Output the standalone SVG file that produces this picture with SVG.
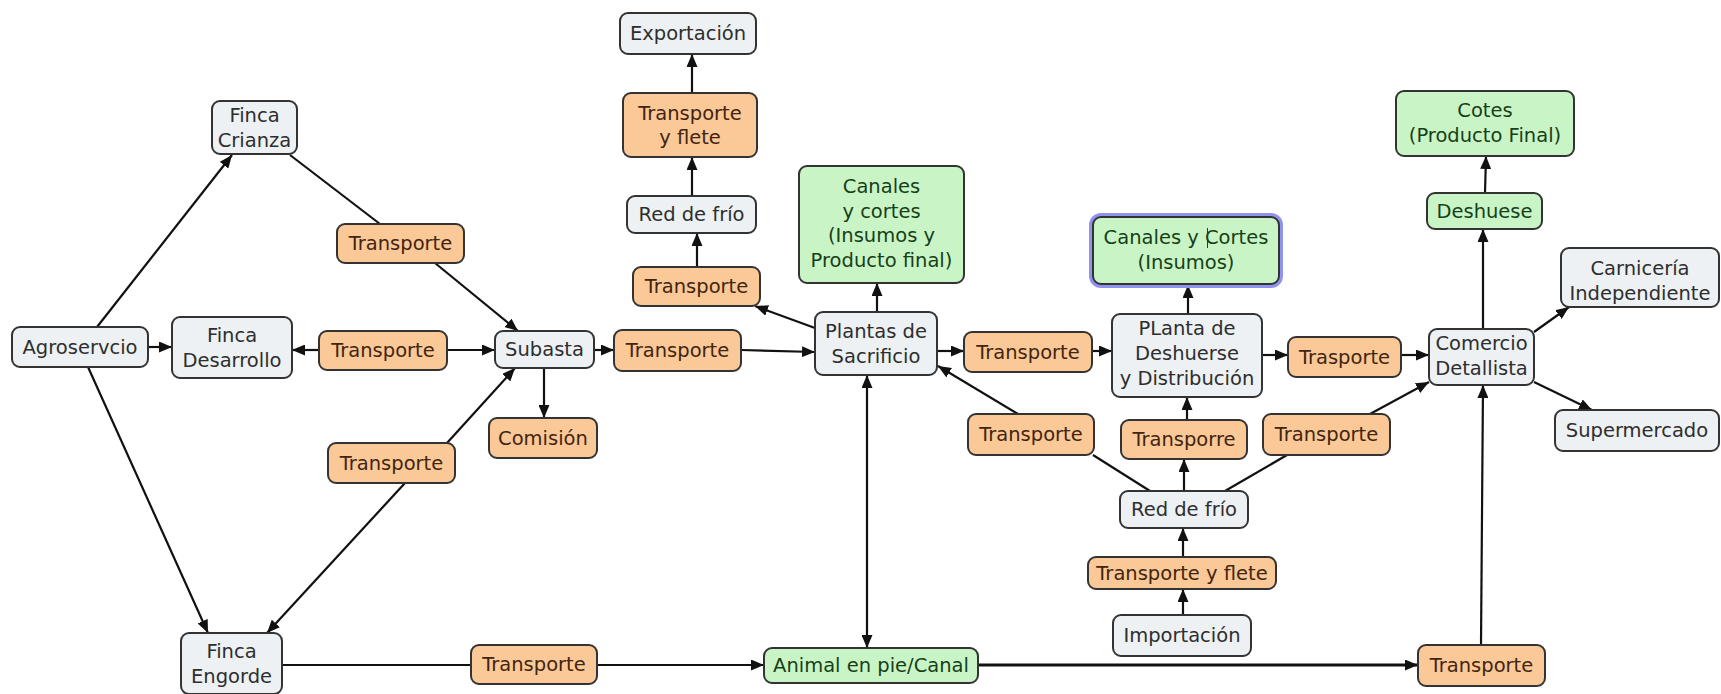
<svg xmlns="http://www.w3.org/2000/svg" width="1721" height="694" viewBox="0 0 1721 694">
<defs>
<style>
.n rect{stroke:#333;stroke-width:2}
.g rect{fill:#edf1f3}
.o rect{fill:#fbc898}
.v rect{fill:#c9f5c6}
text{font-family:"DejaVu Sans","Verdana",sans-serif;font-size:19.5px;text-anchor:middle}
.g text{fill:#2e2e2e}
.o text{fill:#42250f}
.v text{fill:#173f17}
#edges path{fill:none;stroke:#111;stroke-width:2.2}
</style>
<marker id="a" viewBox="0 0 13 11" refX="13" refY="5.5" markerWidth="13" markerHeight="11" markerUnits="userSpaceOnUse" orient="auto-start-reverse"><path d="M0,0 L13,5.5 L0,11 z" fill="#111"/></marker>
</defs>
<rect width="1721" height="694" fill="#fff"/>
<g id="edges">
<path d="M97,327 L232,155" marker-end="url(#a)"/>
<path d="M148,347 L172,347" marker-end="url(#a)"/>
<path d="M88,367 L208,633" marker-end="url(#a)"/>
<path d="M290,155 L380,224"/>
<path d="M435,263 L518,331" marker-end="url(#a)"/>
<path d="M319,350 L292,350" marker-end="url(#a)"/>
<path d="M447,350 L495,350" marker-end="url(#a)"/>
<path d="M447,443 L515,368" marker-end="url(#a)"/>
<path d="M405,483 L267,633" marker-end="url(#a)"/>
<path d="M544,368 L544,418" marker-end="url(#a)"/>
<path d="M594,350 L614,350" marker-end="url(#a)"/>
<path d="M741,350 L815,352" marker-end="url(#a)"/>
<path d="M815,328 L755,306" marker-end="url(#a)"/>
<path d="M697,267 L697,233" marker-end="url(#a)"/>
<path d="M692,196 L692,157" marker-end="url(#a)"/>
<path d="M692,93 L692,54" marker-end="url(#a)"/>
<path d="M877,312 L877,283" marker-end="url(#a)"/>
<path d="M937,351 L964,351" marker-end="url(#a)"/>
<path d="M1092,351 L1112,351" marker-end="url(#a)"/>
<path d="M1188,314 L1188,285" marker-end="url(#a)"/>
<path d="M1262,355 L1288,355" marker-end="url(#a)"/>
<path d="M1401,355 L1429,355" marker-end="url(#a)"/>
<path d="M1150,491 L1093,455"/>
<path d="M1018,414 L938,366" marker-end="url(#a)"/>
<path d="M1184,491 L1184,459" marker-end="url(#a)"/>
<path d="M1187,420 L1187,397" marker-end="url(#a)"/>
<path d="M1225,491 L1287,455"/>
<path d="M1370,414 L1429,382" marker-end="url(#a)"/>
<path d="M1183,557 L1183,528" marker-end="url(#a)"/>
<path d="M1183,615 L1183,589" marker-end="url(#a)"/>
<path d="M282,665 L471,665"/>
<path d="M597,665 L764,665" marker-end="url(#a)"/>
<path d="M867,375 L867,648" marker-start="url(#a)" marker-end="url(#a)"/>
<path d="M978,665 L1418,665" marker-end="url(#a)" style="stroke-width:3"/>
<path d="M1481,645 L1483,385" marker-end="url(#a)"/>
<path d="M1483,329 L1483,229" marker-end="url(#a)"/>
<path d="M1485,193 L1486,156" marker-end="url(#a)"/>
<path d="M1534,332 L1569,307" marker-end="url(#a)"/>
<path d="M1534,382 L1592,410" marker-end="url(#a)"/>
</g>
<g id="agroservicio" class="n g"><rect x="12" y="327" width="136" height="40" rx="8"/><text x="80" y="354">Agroservcio</text></g>
<g id="finca-crianza" class="n g"><rect x="212" y="101" width="85" height="53" rx="8"/><text x="254.5" y="122">Finca</text><text x="254.5" y="147">Crianza</text></g>
<g id="finca-desarrollo" class="n g"><rect x="172" y="317" width="120" height="61" rx="8"/><text x="232" y="342">Finca</text><text x="232" y="367">Desarrollo</text></g>
<g id="finca-engorde" class="n g"><rect x="181" y="633" width="101" height="61" rx="8"/><text x="231.5" y="658">Finca</text><text x="231.5" y="683">Engorde</text></g>
<g id="transporte-1" class="n o"><rect x="337" y="224" width="127" height="39" rx="8"/><text x="400.5" y="250">Transporte</text></g>
<g id="transporte-2" class="n o"><rect x="319" y="331" width="128" height="39" rx="8"/><text x="383" y="357">Transporte</text></g>
<g id="transporte-3" class="n o"><rect x="328" y="443" width="127" height="40" rx="8"/><text x="391.5" y="470">Transporte</text></g>
<g id="subasta" class="n g"><rect x="495" y="331" width="99" height="37" rx="8"/><text x="544.5" y="356">Subasta</text></g>
<g id="comision" class="n o"><rect x="489" y="418" width="108" height="40" rx="8"/><text x="543" y="445">Comisión</text></g>
<g id="transporte-4" class="n o"><rect x="614" y="330" width="127" height="41" rx="8"/><text x="677.5" y="357">Transporte</text></g>
<g id="transporte-5" class="n o"><rect x="633" y="267" width="127" height="39" rx="8"/><text x="696.5" y="293">Transporte</text></g>
<g id="red-frio-1" class="n g"><rect x="627" y="196" width="129" height="37" rx="8"/><text x="691.5" y="221">Red de frío</text></g>
<g id="transporte-flete-1" class="n o"><rect x="623" y="93" width="134" height="64" rx="8"/><text x="690" y="120">Transporte</text><text x="690" y="144">y flete</text></g>
<g id="exportacion" class="n g"><rect x="620" y="13" width="136" height="41" rx="8"/><text x="688" y="40">Exportación</text></g>
<g id="canales-cortes" class="n v"><rect x="799" y="166" width="165" height="117" rx="8"/><text x="881.5" y="193">Canales</text><text x="881.5" y="218">y cortes</text><text x="881.5" y="242">(Insumos y</text><text x="881.5" y="267">Producto final)</text></g>
<g id="plantas-sacrificio" class="n g"><rect x="815" y="312" width="122" height="63" rx="8"/><text x="876" y="338">Plantas de</text><text x="876" y="363">Sacrificio</text></g>
<g id="transporte-6" class="n o"><rect x="964" y="332" width="128" height="40" rx="8"/><text x="1028" y="359">Transporte</text></g>
<g id="canales-insumos" class="n v"><rect x="1091" y="215" width="190" height="71" rx="10" style="fill:none;stroke:#8f93ee;stroke-width:4"/><rect x="1093" y="217" width="186" height="67" rx="8"/><text x="1186" y="244">Canales y Cortes</text><text x="1186" y="269">(Insumos)</text><path d="M1207.5,228 V248" stroke="#333" stroke-width="1"/></g>
<g id="planta-deshuerse" class="n g"><rect x="1112" y="314" width="150" height="83" rx="8"/><text x="1187" y="335">PLanta de</text><text x="1187" y="360">Deshuerse</text><text x="1187" y="385">y Distribución</text></g>
<g id="trasporte" class="n o"><rect x="1288" y="337" width="113" height="40" rx="8"/><text x="1344.5" y="364">Trasporte</text></g>
<g id="transporte-7" class="n o"><rect x="968" y="414" width="126" height="41" rx="8"/><text x="1031" y="441">Transporte</text></g>
<g id="transporre" class="n o"><rect x="1121" y="420" width="126" height="39" rx="8"/><text x="1184" y="446">Transporre</text></g>
<g id="transporte-8" class="n o"><rect x="1263" y="414" width="127" height="41" rx="8"/><text x="1326.5" y="441">Transporte</text></g>
<g id="red-frio-2" class="n g"><rect x="1120" y="491" width="128" height="37" rx="8"/><text x="1184" y="516">Red de frío</text></g>
<g id="transporte-flete-2" class="n o"><rect x="1088" y="557" width="188" height="32" rx="8"/><text x="1182" y="580">Transporte y flete</text></g>
<g id="importacion" class="n g"><rect x="1113" y="615" width="138" height="41" rx="8"/><text x="1182" y="642">Importación</text></g>
<g id="transporte-9" class="n o"><rect x="471" y="645" width="126" height="39" rx="8"/><text x="534" y="671">Transporte</text></g>
<g id="animal" class="n v"><rect x="764" y="648" width="214" height="35" rx="8"/><text x="871" y="672">Animal en pie/Canal</text></g>
<g id="transporte-10" class="n o"><rect x="1418" y="645" width="127" height="41" rx="8"/><text x="1481.5" y="672">Transporte</text></g>
<g id="comercio" class="n g"><rect x="1429" y="329" width="105" height="56" rx="8"/><text x="1481.5" y="350">Comercio</text><text x="1481.5" y="375">Detallista</text></g>
<g id="deshuese" class="n v"><rect x="1427" y="193" width="115" height="36" rx="8"/><text x="1484.5" y="218">Deshuese</text></g>
<g id="cotes" class="n v"><rect x="1396" y="91" width="178" height="65" rx="8"/><text x="1485" y="117">Cotes</text><text x="1485" y="142">(Producto Final)</text></g>
<g id="carniceria" class="n g"><rect x="1561" y="248" width="158" height="59" rx="8"/><text x="1640" y="275">Carnicería</text><text x="1640" y="300">Independiente</text></g>
<g id="supermercado" class="n g"><rect x="1555" y="410" width="164" height="41" rx="8"/><text x="1637" y="437">Supermercado</text></g>
</svg>
